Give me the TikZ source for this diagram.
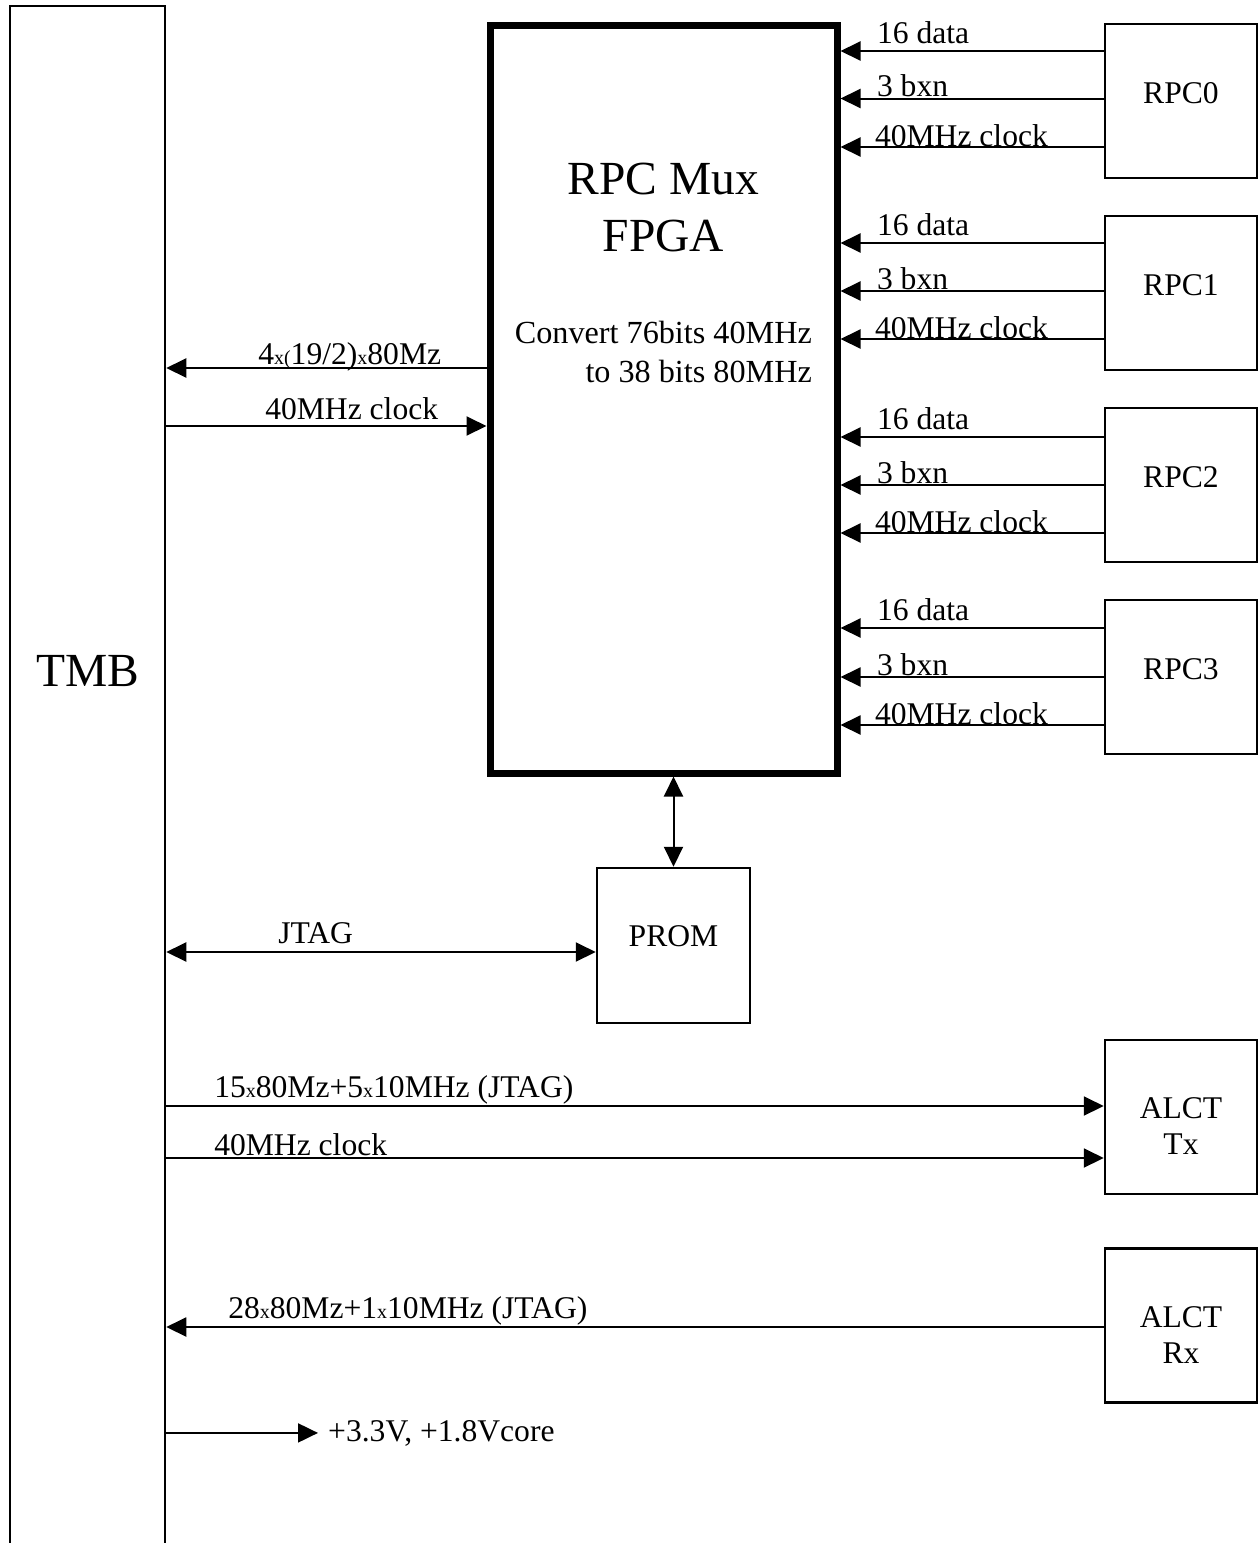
\documentclass[tikz,border=0pt]{standalone}
\usepackage{fontspec}
\setmainfont{Liberation Serif}
\usetikzlibrary{arrows.meta,positioning}

\newcommand{\smalltxt}[1]{{\fontsize{20}{20}\selectfont #1}}

\begin{document}
\begin{tikzpicture}[
  x=1pt,y=-1pt,
  node distance=35.5pt,
  box/.style={rectangle,draw,line width=2.5pt,minimum width=152pt,minimum height=154pt,inner sep=0pt,font=\fontsize{31.6}{36}\selectfont},
  fpgabox/.style={rectangle,draw,line width=7pt,minimum width=347pt,minimum height=748pt},
  lbl/.style={inner sep=0pt,font=\fontsize{31.6}{36}\selectfont},
  big/.style={inner sep=0pt,font=\fontsize{47.5}{57}\selectfont},
  sig/.style={line width=2pt},
  >={Triangle[length=20pt,width=19pt]}
]
\useasboundingbox (0,0) rectangle (1259,1543);
\clip (0,0) rectangle (1259,1543);

% boards
\node[box,minimum width=155pt,minimum height=1600pt] (tmb) at (87.5,806) {};
\node[big] (tmblbl) at (87.5,671) {TMB};
\node[fpgabox] (fpga) at (663.5,399) {};
\node[big,align=center,anchor=north] (title) at (663.5,163) {RPC Mux\\FPGA};
\node[lbl,align=right,anchor=north east,font=\fontsize{32.2}{39}\selectfont] (conv) at (812,321) {Convert 76bits 40MHz\\to 38 bits 80MHz};
\node[box,text depth=16pt] (rpc0) at (1181,101) {RPC0};
\node[box,text depth=16pt,below=of rpc0] (rpc1) {RPC1};
\node[box,text depth=16pt,below=of rpc1] (rpc2) {RPC2};
\node[box,text depth=16pt,below=of rpc2] (rpc3) {RPC3};
\node[box,minimum width=153pt,minimum height=155pt,text depth=18pt] (prom) at (673.5,945.5) {PROM};
\node[box] (atx) at (1181,1117) {};
\node[lbl,align=center] (atxlbl) at ([yshift=-9pt]atx.center) {ALCT\\Tx};
\node[box] (arx) at (1181,1325.5) {};
\node[lbl,align=center] (arxlbl) at ([yshift=-10pt]arx.center) {ALCT\\Rx};
\node[lbl,anchor=base west] (pwr) at (328,1441) {+3.3V, +1.8Vcore};

% RPC inputs
\coordinate[above=50pt of rpc0.west] (d0);
\coordinate[above=2.5pt of rpc0.west] (b0);
\coordinate[below=46pt of rpc0.west] (c0);
\coordinate[above=50pt of rpc1.west] (d1);
\coordinate[above=2pt of rpc1.west] (b1);
\coordinate[below=46pt of rpc1.west] (c1);
\coordinate[above=48pt of rpc2.west] (d2);
\coordinate[above=0pt of rpc2.west] (b2);
\coordinate[below=48pt of rpc2.west] (c2);
\coordinate[above=49pt of rpc3.west] (d3);
\coordinate[above=0pt of rpc3.west] (b3);
\coordinate[below=48pt of rpc3.west] (c3);

\draw[sig,<-] (fpga.east |- d0) node[lbl,anchor=base west,xshift=35.5pt,yshift=8pt] {16 data} -- (d0);
\draw[sig,<-] (fpga.east |- b0) node[lbl,anchor=base west,xshift=35.5pt,yshift=2pt] {3 bxn} -- (b0);
\draw[sig,<-] (fpga.east |- c0) node[lbl,anchor=base west,xshift=33.5pt,yshift=1pt] {40MHz clock} -- (c0);
\draw[sig,<-] (fpga.east |- d1) node[lbl,anchor=base west,xshift=35.5pt,yshift=8pt] {16 data} -- (d1);
\draw[sig,<-] (fpga.east |- b1) node[lbl,anchor=base west,xshift=35.5pt,yshift=2pt] {3 bxn} -- (b1);
\draw[sig,<-] (fpga.east |- c1) node[lbl,anchor=base west,xshift=33.5pt,yshift=1pt] {40MHz clock} -- (c1);
\draw[sig,<-] (fpga.east |- d2) node[lbl,anchor=base west,xshift=35.5pt,yshift=8pt] {16 data} -- (d2);
\draw[sig,<-] (fpga.east |- b2) node[lbl,anchor=base west,xshift=35.5pt,yshift=2pt] {3 bxn} -- (b2);
\draw[sig,<-] (fpga.east |- c2) node[lbl,anchor=base west,xshift=33.5pt,yshift=1pt] {40MHz clock} -- (c2);
\draw[sig,<-] (fpga.east |- d3) node[lbl,anchor=base west,xshift=35.5pt,yshift=8pt] {16 data} -- (d3);
\draw[sig,<-] (fpga.east |- b3) node[lbl,anchor=base west,xshift=35.5pt,yshift=2pt] {3 bxn} -- (b3);
\draw[sig,<-] (fpga.east |- c3) node[lbl,anchor=base west,xshift=33.5pt,yshift=1pt] {40MHz clock} -- (c3);

% TMB links
\coordinate[above=31pt of fpga.west] (busout);
\coordinate[below=27pt of fpga.west] (clkin);
\coordinate[below=6.5pt of prom.west] (jtagin);
\coordinate[above=11pt of atx.west] (txdata);
\coordinate[below=41pt of atx.west] (txclk);
\coordinate[below=1.5pt of arx.west] (rxdata);

\draw[sig,<-] (tmb.east |- busout) node[lbl,anchor=base west,xshift=91pt,yshift=4pt] {4\smalltxt{x(}19/2)\smalltxt{x}80Mz} -- (busout);
\draw[sig,->] (tmb.east |- clkin) node[lbl,anchor=base west,xshift=98pt,yshift=7pt] {40MHz clock} -- (clkin);
\draw[sig,<->] (tmb.east |- jtagin) node[lbl,anchor=base west,xshift=111pt,yshift=9pt] {JTAG} -- (jtagin);
\draw[sig,<->] (prom.north |- fpga.south) -- (prom.north);
\draw[sig,->] (tmb.east |- txdata) node[lbl,anchor=base west,xshift=47pt,yshift=9pt] {15\smalltxt{x}80Mz+5\smalltxt{x}10MHz (JTAG)} -- (txdata);
\draw[sig,->] (tmb.east |- txclk) node[lbl,anchor=base west,xshift=47pt,yshift=3pt] {40MHz clock} -- (txclk);
\draw[sig,<-] (tmb.east |- rxdata) node[lbl,anchor=base west,xshift=61pt,yshift=9pt] {28\smalltxt{x}80Mz+1\smalltxt{x}10MHz (JTAG)} -- (rxdata);
\draw[sig,->] (tmb.east |- pwr.west) -- ([xshift=-10pt]pwr.west);
\end{tikzpicture}
\end{document}
